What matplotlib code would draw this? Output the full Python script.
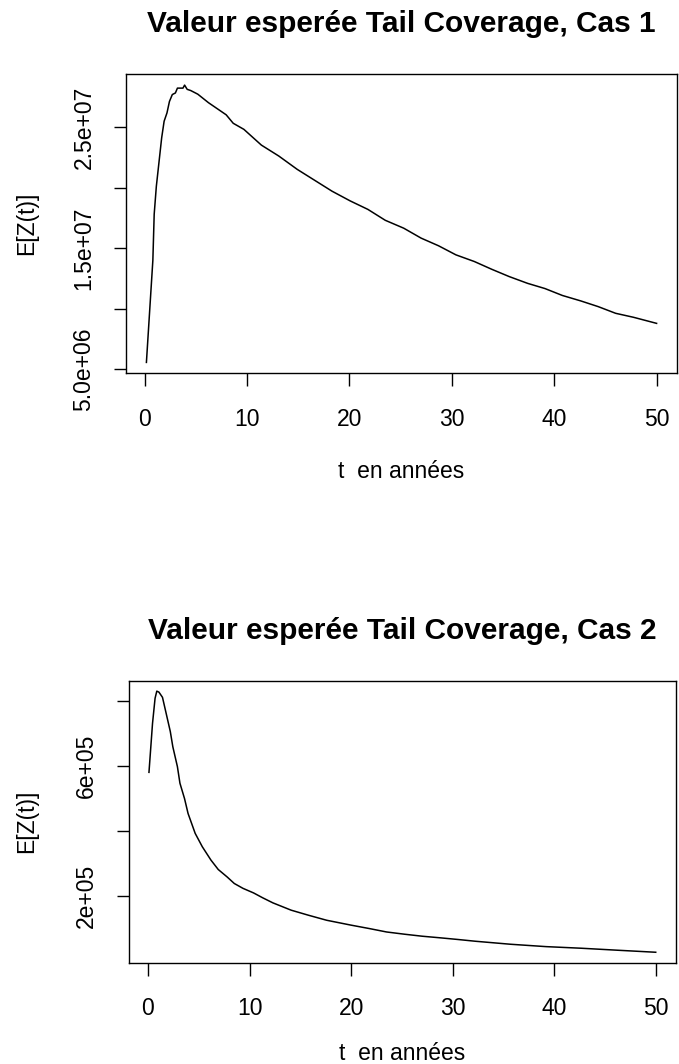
import matplotlib
matplotlib.use("Agg")
import matplotlib.pyplot as plt
import numpy as np

# ---------------- data ----------------
t_cas1 = [0.17, 0.8, 0.93, 1.14, 1.66, 1.9, 2.18, 2.42, 2.7, 3.0, 3.2, 3.74, 3.9,
          4.15, 4.5, 5.19, 6.23, 7.96, 8.65, 9.69, 11.4, 13.1, 14.9, 16.6, 18.3,
          20.07, 21.8, 23.5, 25.3, 27.0, 28.7, 30.4, 32.2, 33.9, 35.6, 37.4, 39.1,
          40.8, 42.6, 44.3, 46.0, 47.75, 50.0]
ez_cas1 = [5.58e6, 1.40e7, 1.78e7, 2.01e7, 2.41e7, 2.547e7, 2.616e7, 2.71e7, 2.767e7,
           2.78e7, 2.82e7, 2.82e7, 2.845e7, 2.81e7, 2.80e7, 2.77e7, 2.70e7, 2.60e7,
           2.53e7, 2.48e7, 2.35e7, 2.26e7, 2.15e7, 2.06e7, 1.97e7, 1.89e7, 1.82e7,
           1.73e7, 1.665e7, 1.583e7, 1.52e7, 1.445e7, 1.39e7, 1.326e7, 1.266e7,
           1.21e7, 1.167e7, 1.11e7, 1.065e7, 1.018e7, 9.63e6, 9.3e6, 8.8e6]

t_cas2 = [0.1, 0.45, 0.7, 0.87, 1.08, 1.43, 1.68, 2.2, 2.45, 2.9, 3.15, 3.6, 3.95,
          4.65, 5.35, 6.2, 6.92, 7.8, 8.5, 9.36, 10.4, 11.3, 12.3, 14.1, 15.8, 17.6,
          20.0, 21.8, 23.5, 25.3, 27.0, 28.8, 30.5, 32.25, 35.7, 39.2, 42.7, 46.2, 50.0]
ez_cas2 = [5.795e5, 7.30e5, 8.07e5, 8.29e5, 8.26e5, 8.10e5, 7.76e5, 7.05e5, 6.58e5,
           5.97e5, 5.46e5, 4.99e5, 4.53e5, 3.92e5, 3.51e5, 3.10e5, 2.81e5, 2.58e5,
           2.38e5, 2.23e5, 2.09e5, 1.94e5, 1.785e5, 1.56e5, 1.405e5, 1.25e5, 1.10e5,
           9.95e4, 8.9e4, 8.2e4, 7.6e4, 7.1e4, 6.6e4, 6.05e4, 5.13e4, 4.4e4, 3.9e4,
           3.3e4, 2.67e4]

x_ticks = [0, 10, 20, 30, 40, 50]
x_ticklabels = ["0", "10", "20", "30", "40", "50"]
y_ticks_cas1 = [5e6, 1e7, 1.5e7, 2e7, 2.5e7]
y_ticklabels_cas1 = ["5.0e+06", "", "1.5e+07", "", "2.5e+07"]
y_ticks_cas2 = [2e5, 4e5, 6e5, 8e5]
y_ticklabels_cas2 = ["2e+05", "", "6e+05", ""]

titles = ["Valeur esperée Tail Coverage, Cas 1", "Valeur esperée Tail Coverage, Cas 2"]
xlabel = "t  en années"
ylabel = "E[Z(t)]"

# ---------------- layout ----------------
plt.rcParams['font.family'] = ['Liberation Sans', 'DejaVu Sans']
W, H = 679, 1064
fig = plt.figure(figsize=(W / 100, H / 100), dpi=100)

def r_range(v):
    lo, hi = min(v), max(v)
    d = (hi - lo) * 0.04
    return lo - d, hi + d

panels = [
    dict(box=(126, 74, 677, 373.5), t=t_cas1, z=ez_cas1, yt=y_ticks_cas1,
         ytl=y_ticklabels_cas1, title=titles[0], title_y=32.5, xl_y=478),
    dict(box=(128.7, 680.7, 676, 962.7), t=t_cas2, z=ez_cas2, yt=y_ticks_cas2,
         ytl=y_ticklabels_cas2, title=titles[1], title_y=639, xl_y=1060),
]

FS = 16.5
for p in panels:
    l, tp, r, b = p["box"]
    ax = fig.add_axes([l / W, 1 - b / H, (r - l) / W, (b - tp) / H])
    ax.plot(p["t"], p["z"], color="black", lw=1.1)
    ax.set_xlim(*r_range(p["t"]))
    ax.set_ylim(*r_range(p["z"]))
    ax.set_xticks(x_ticks)
    ax.set_xticklabels(x_ticklabels)
    ax.set_yticks(p["yt"])
    ax.set_yticklabels(p["ytl"], rotation=90, va="center")
    ax.tick_params(axis="both", direction="out", length=9, width=1.0,
                   labelsize=FS, color="black", labelcolor="black")
    ax.tick_params(axis="x", pad=15.5)
    ax.tick_params(axis="y", pad=13)
    for s in ax.spines.values():
        s.set_linewidth(1.0)
        s.set_color("black")
    cx = (l + r) / 2
    fig.text(cx / W, 1 - p["title_y"] / H, p["title"], ha="center", va="baseline",
             fontsize=21.5, fontweight="bold")
    fig.text(cx / W, 1 - p["xl_y"] / H, xlabel, ha="center", va="baseline",
             fontsize=FS)
    cy = (tp + b) / 2
    fig.text(27 / W, 1 - cy / H, ylabel, ha="center", va="center", rotation=90,
             fontsize=FS)

fig.savefig("out.png", dpi=100, facecolor="white")
